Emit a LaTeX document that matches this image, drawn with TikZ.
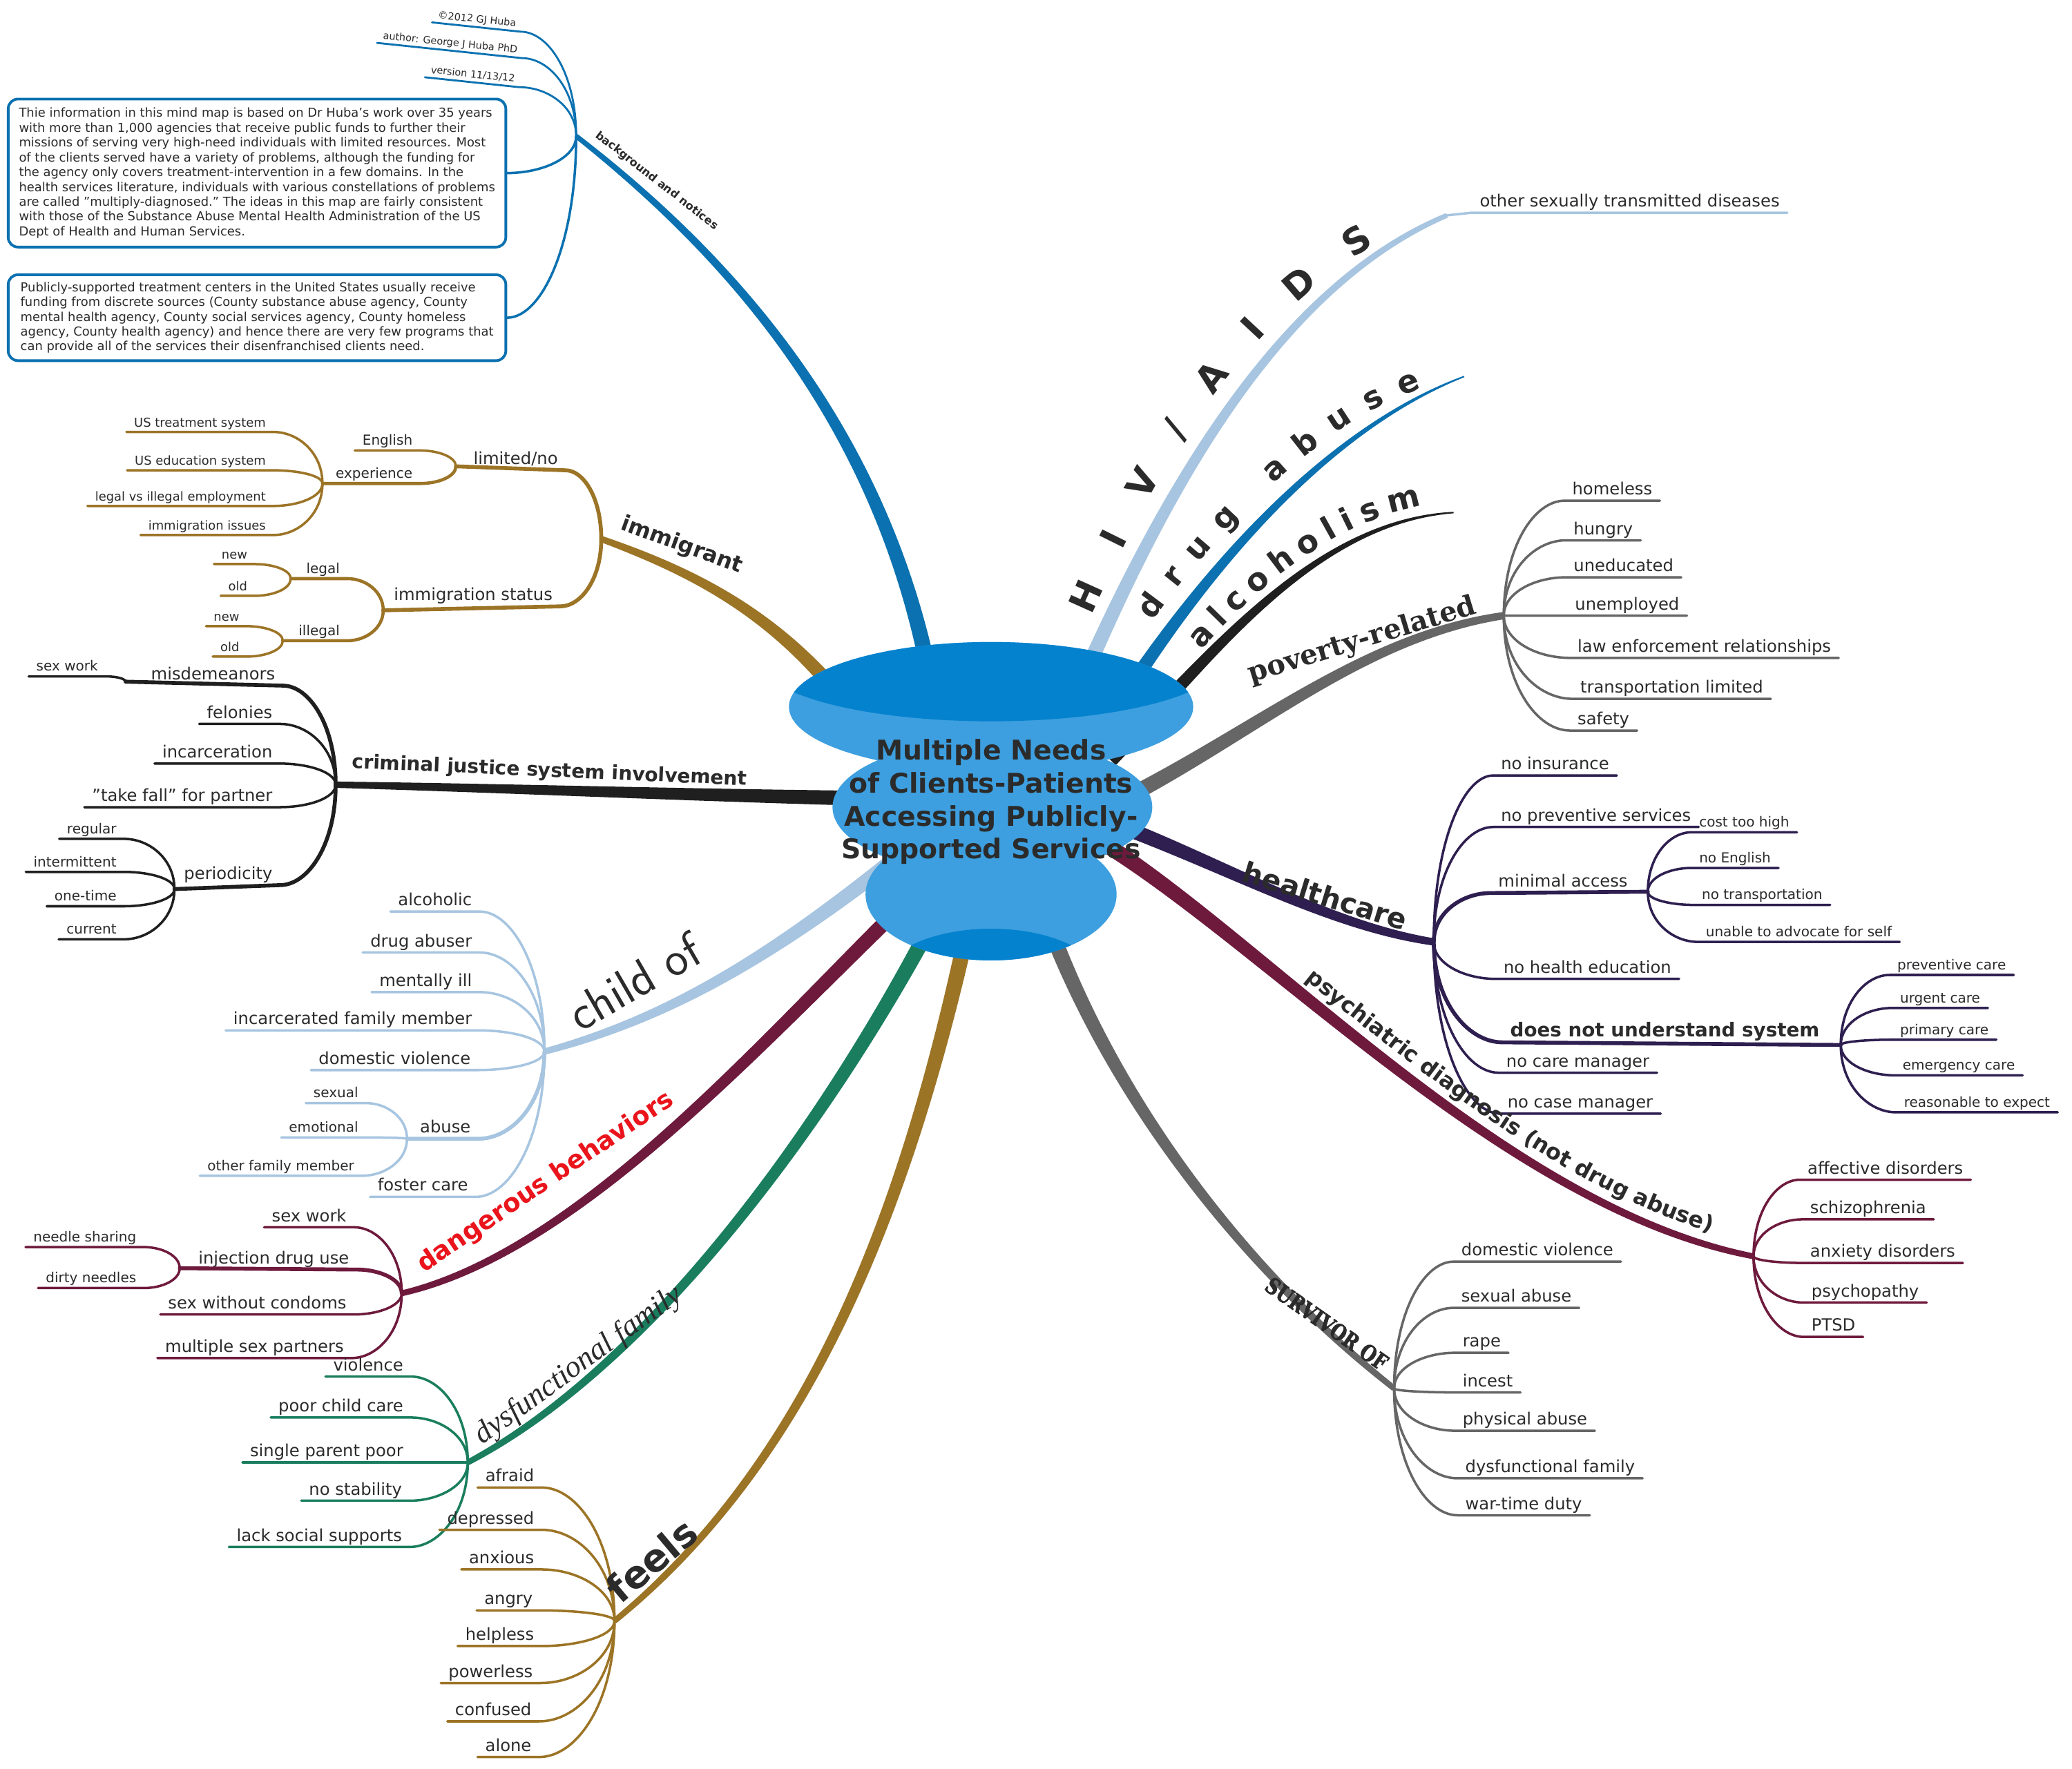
\documentclass[tikz,border=0pt]{standalone}
\usepackage{fontspec}
\setmainfont{DejaVu Sans}
\newfontfamily\slabfont{DejaVu Serif}
\newfontfamily\stencilfont[FakeStretch=0.8, FakeBold=2]{DejaVu Serif}
\newfontfamily\romfont{Liberation Serif}
\usetikzlibrary{calc, decorations.text}

\definecolor{ink}{HTML}{2B2B2B}
\definecolor{navy}{HTML}{0B71B0}
\definecolor{sky}{HTML}{A7C5E0}
\definecolor{ochre}{HTML}{9C7426}
\definecolor{coal}{HTML}{1F1F1F}
\definecolor{wine}{HTML}{6E1A3D}
\definecolor{pine}{HTML}{1A7E5E}
\definecolor{slate}{HTML}{666666}
\definecolor{plum}{HTML}{2E1F50}
\definecolor{alarm}{HTML}{EA141C}
\definecolor{hubdark}{HTML}{0582CE}
\definecolor{hublight}{HTML}{3D9FDF}

% tapered main branch: colour, root, control, control, tip, half width at tip
\newcommand\limb[6]{%
  \pgfmathsetlengthmacro\lwa{3.3pt}%
  \pgfmathsetlengthmacro\lwd{#6}%
  \pgfmathsetlengthmacro\lwb{(2*\lwa+\lwd)/3}%
  \pgfmathsetlengthmacro\lwc{(\lwa+2*\lwd)/3}%
  \fill[#1] ($#2!\lwa!90:#3$) .. controls ($#3!\lwb!-90:#2$) and ($#4!\lwc!90:#5$) .. ($#5!\lwd!-90:#4$)
    -- ($#5!\lwd!90:#4$) .. controls ($#4!\lwc!-90:#5$) and ($#3!\lwb!90:#2$) .. ($#2!\lwa!-90:#3$) -- cycle;}

\begin{document}
\begin{tikzpicture}[x=0.019133cm, y=-0.019133cm,
  leaf/.style={font=\fontsize{6.9}{8}\selectfont, text=ink, inner xsep=3pt, inner ysep=0.8pt, text depth=1.4pt},
  leafsm/.style={leaf, font=\fontsize{5.7}{7}\selectfont, text depth=1.2pt},
  leafxs/.style={leaf, font=\fontsize{5.1}{6}\selectfont, text depth=1.1pt},
  leaftiny/.style={leaf, font=\fontsize{4.1}{5}\selectfont, text depth=0.9pt, inner xsep=2pt},
  twig/.style={line width=1pt, line cap=round},
  stem/.style={line width=1.6pt, line cap=round},
  fan/.style={to path={.. controls ($(\tikztostart)!0.6!(\tikztostart|-\tikztotarget)$)
      and ($(\tikztotarget)!0.5!(\tikztostart|-\tikztotarget)$) .. (\tikztotarget)}},
  note/.style={draw=navy, line width=1.1pt, rounded corners=4pt, fill=white, text=ink,
      font=\fontsize{5.1}{6.1}\selectfont, align=left, inner xsep=3pt, inner ysep=3pt,
      minimum width=205pt},
  mainlbl/.style={text=ink, inner sep=0pt},
  spread/.style={decorate, decoration={text along path, text align=fit to path,
      text={|\fontsize{#1}{16}\selectfont\bfseries\color{ink}|\lbltext}}},
]

% ---- canvas -------------------------------------------------------------
\fill[white] (0,0) rectangle (1568,1339);
\useasboundingbox (0,0) rectangle (1568,1339);

% ---- junctions at the branch tips ---------------------------------------
\coordinate (bg) at (436,103);
\coordinate (im) at (455,408);
\coordinate (cr) at (254,594);
\coordinate (ch) at (412,796);
\coordinate (dg) at (304,979);
\coordinate (df) at (354,1107);
\coordinate (fe) at (465,1227);
\coordinate (sv) at (1055,1051);
\coordinate (ps) at (1327,951);
\coordinate (hc) at (1085,713);
\coordinate (pv) at (1138,466);
\coordinate (alc) at (1100,388);
\coordinate (drg) at (1108,285);
\coordinate (hiv) at (1095,163);

% ---- main branches --------------------------------------------------------
\limb{navy}{(705,520)}{(670,330)}{(560,200)}{(bg)}{1pt}
\limb{ochre}{(660,560)}{(600,470)}{(530,435)}{(im)}{1.3pt}
\limb{coal}{(700,605)}{(550,603)}{(400,597)}{(cr)}{1.3pt}
\limb{sky}{(690,640)}{(590,720)}{(510,770)}{(ch)}{1.3pt}
\limb{wine}{(720,650)}{(600,760)}{(450,945)}{(dg)}{1.2pt}
\limb{pine}{(720,670)}{(640,830)}{(500,1030)}{(df)}{1.2pt}
\limb{ochre}{(735,690)}{(690,900)}{(620,1100)}{(fe)}{1.2pt}
\limb{slate}{(790,690)}{(840,830)}{(940,960)}{(sv)}{1.2pt}
\limb{wine}{(830,635)}{(960,715)}{(1140,915)}{(ps)}{1.2pt}
\limb{plum}{(820,615)}{(920,650)}{(1000,700)}{(hc)}{1.5pt}
\limb{slate}{(840,610)}{(950,555)}{(1030,482)}{(pv)}{1.5pt}
\limb{coal}{(840,575)}{(910,505)}{(990,395)}{(alc)}{0.3pt}
\limb{navy}{(830,560)}{(890,460)}{(990,330)}{(drg)}{0.3pt}
\limb{sky}{(800,560)}{(870,390)}{(960,220)}{(hiv)}{1pt}

% ---- background and notices ----------------------------------------------
\foreach \t/\x/\y [count=\i] in {{©2012 GJ Huba}/394/24, {author: George J Huba PhD}/395/44,
    {version 11/13/12}/393/66}{
  \node[leaftiny, anchor=south east, rotate=-6] (bg\i) at (\x,\y) {\t};
  \draw[twig, navy, line width=0.8pt] (bg) to[fan] (bg\i.south east) -- (bg\i.south west);
}
\node[note, minimum height=61pt] (box1) at (194.5,131) {Thie information in this mind map is based on Dr Huba\symbol{39}s work over 35 years\\
with more than 1,000 agencies that receive public funds to further their\\
missions of serving very high-need individuals with limited resources. Most\\
of the clients served have a variety of problems, although the funding for\\
the agency only covers treatment-intervention in a few domains. In the\\
health services literature, individuals with various constellations of problems\\
are called \symbol{34}multiply-diagnosed.\symbol{34} The ideas in this map are fairly consistent\\
with those of the Substance Abuse Mental Health Administration of the US\\
Dept of Health and Human Services.};
\node[note, minimum height=35.4pt] (box2) at (194.5,240.5) {Publicly-supported treatment centers in the United States usually receive\\
funding from discrete sources (County substance abuse agency, County\\
mental health agency, County social services agency, County homeless\\
agency, County health agency) and hence there are very few programs that\\
can provide all of the services their disenfranchised clients need.};
\draw[twig, navy] (bg) to[fan] (box1.east);
\draw[twig, navy] (bg) to[fan] (box2.east);

% ---- immigrant --------------------------------------------------------------
\node[leaf, anchor=south east] (lim) at (428,356) {limited/no};
\coordinate (limj) at (345,353);
\draw[stem, ochre] (im) to[fan] (lim.south east) -- (limj);
\node[leafsm, anchor=south east] (eng) at (318,341) {English};
\draw[twig, ochre] (limj) to[fan] (eng.south east) -- (eng.south west);
\node[leafsm, anchor=south east] (exp) at (318,366) {experience};
\coordinate (expj) at (244,366);
\draw[stem, ochre, line width=1.3pt] (limj) to[fan] (exp.south east) -- (expj);
\foreach \t/\x/\y [count=\i] in {{US treatment system}/207/327, {US education system}/207/356,
    {legal vs illegal employment}/207/383, {immigration issues}/207/405}{
  \node[leafxs, anchor=south east] (exp\i) at (\x,\y) {\t};
  \draw[twig, ochre] (expj) to[fan] (exp\i.south east) -- (exp\i.south west);
}
\node[leaf, anchor=south east] (st) at (424,459) {immigration status};
\coordinate (stj) at (290,462);
\draw[stem, ochre] (im) to[fan] (st.south east) -- (stj);
\node[leafsm, anchor=south east] (leg) at (263,438) {legal};
\coordinate (legj) at (220,438);
\draw[stem, ochre, line width=1.3pt] (stj) to[fan] (leg.south east) -- (legj);
\node[leafsm, anchor=south east] (ill) at (263,485) {illegal};
\coordinate (illj) at (214,485);
\draw[stem, ochre, line width=1.3pt] (stj) to[fan] (ill.south east) -- (illj);
\foreach \t/\x/\y [count=\i] in {new/193/427, old/193/451}{
  \node[leafxs, anchor=south east] (leg\i) at (\x,\y) {\t};
  \draw[twig, ochre] (legj) to[fan] (leg\i.south east) -- (leg\i.south west);
}
\foreach \t/\x/\y [count=\i] in {new/187/474, old/187/497}{
  \node[leafxs, anchor=south east] (ill\i) at (\x,\y) {\t};
  \draw[twig, ochre] (illj) to[fan] (ill\i.south east) -- (ill\i.south west);
}

% ---- criminal justice ------------------------------------------------------
\foreach \t/\x/\y [count=\i] in {felonies/212/548, incarceration/212/578,
    {\symbol{34}take fall\symbol{34} for partner}/212/611}{
  \node[leaf, anchor=south east] (cr\i) at (\x,\y) {\t};
  \draw[twig, coal] (cr) to[fan] (cr\i.south east) -- (cr\i.south west);
}
\node[leaf, anchor=south east] (mis) at (214,519) {misdemeanors};
\coordinate (misj) at (95,516);
\draw[stem, coal] (cr) to[fan] (mis.south east) -- (misj);
\node[leafsm, anchor=south east] (sw) at (80,512) {sex work};
\draw[twig, coal] (misj) to[fan] (sw.south east) -- (sw.south west);
\node[leaf, anchor=south east] (per) at (212,670) {periodicity};
\coordinate (perj) at (132,673);
\draw[stem, coal] (cr) to[fan] (per.south east) -- (perj);
\foreach \t/\x/\y [count=\i] in {regular/94/635, intermittent/94/660, one-time/94/686, current/94/711}{
  \node[leafsm, anchor=south east] (per\i) at (\x,\y) {\t};
  \draw[twig, coal] (perj) to[fan] (per\i.south east) -- (per\i.south west);
}

% ---- child of ---------------------------------------------------------------
\foreach \t/\x/\y [count=\i] in {alcoholic/363/690, {drug abuser}/363/721, {mentally ill}/363/751,
    {incarcerated family member}/363/780, {domestic violence}/362/810, {foster care}/360/906}{
  \node[leaf, anchor=south east] (ch\i) at (\x,\y) {\t};
  \draw[twig, sky] (ch) to[fan] (ch\i.south east) -- (ch\i.south west);
}
\node[leaf, anchor=south east] (ab) at (362,862) {abuse};
\coordinate (abj) at (308,862);
\draw[stem, sky] (ch) to[fan] (ab.south east) -- (abj);
\foreach \t/\x/\y [count=\i] in {sexual/277/835, emotional/277/861, {other family member}/274/890}{
  \node[leafsm, anchor=south east] (ab\i) at (\x,\y) {\t};
  \draw[twig, sky] (abj) to[fan] (ab\i.south east) -- (ab\i.south west);
}

% ---- dangerous behaviors ------------------------------------------------
\foreach \t/\x/\y [count=\i] in {{sex work}/268/929, {sex without condoms}/268/995,
    {multiple sex partners}/266/1028}{
  \node[leaf, anchor=south east] (dg\i) at (\x,\y) {\t};
  \draw[twig, wine] (dg) to[fan] (dg\i.south east) -- (dg\i.south west);
}
\node[leaf, anchor=south east] (inj) at (270,961) {injection drug use};
\coordinate (injj) at (136,960);
\draw[stem, wine] (dg) to[fan] (inj.south east) -- (injj);
\foreach \t/\x/\y [count=\i] in {{needle sharing}/109/944, {dirty needles}/109/975}{
  \node[leafsm, anchor=south east] (inj\i) at (\x,\y) {\t};
  \draw[twig, wine] (injj) to[fan] (inj\i.south east) -- (inj\i.south west);
}

% ---- dysfunctional family ----------------------------------------------
\foreach \t/\x/\y [count=\i] in {violence/311/1042, {poor child care}/311/1073,
    {single parent poor}/311/1107, {no stability}/310/1136, {lack social supports}/310/1171}{
  \node[leaf, anchor=south east] (df\i) at (\x,\y) {\t};
  \draw[twig, pine] (df) to[fan] (df\i.south east) -- (df\i.south west);
}

% ---- feels ------------------------------------------------------------------
\foreach \t/\x/\y [count=\i] in {afraid/410/1126, depressed/410/1158, anxious/410/1188,
    angry/409/1219, helpless/410/1246, powerless/409/1274, confused/408/1303, alone/408/1330}{
  \node[leaf, anchor=south east] (fe\i) at (\x,\y) {\t};
  \draw[twig, ochre] (fe) to[fan] (fe\i.south east) -- (fe\i.south west);
}

% ---- survivor of ----------------------------------------------------------
\foreach \t/\x/\y [count=\i] in {{domestic violence}/1100/955, {sexual abuse}/1100/990,
    rape/1101/1024, incest/1101/1054, {physical abuse}/1101/1083,
    {dysfunctional family}/1103/1119, {war-time duty}/1103/1147}{
  \node[leaf, anchor=south west] (sv\i) at (\x,\y) {\t};
  \draw[twig, slate] (sv) to[fan] (sv\i.south west) -- (sv\i.south east);
}

% ---- psychiatric diagnosis ---------------------------------------------
\foreach \t/\x/\y [count=\i] in {{affective disorders}/1362/893, schizophrenia/1364/923,
    {anxiety disorders}/1364/956, psychopathy/1365/986, PTSD/1365/1012}{
  \node[leaf, anchor=south west] (ps\i) at (\x,\y) {\t};
  \draw[twig, wine] (ps) to[fan] (ps\i.south west) -- (ps\i.south east);
}

% ---- healthcare -------------------------------------------------------------
\foreach \t/\x/\y [count=\i] in {{no insurance}/1130/587, {no preventive services}/1130/626,
    {no health education}/1132/741, {no care manager}/1134/812, {no case manager}/1135/843}{
  \node[leaf, anchor=south west] (hc\i) at (\x,\y) {\t};
  \draw[twig, plum] (hc) to[fan] (hc\i.south west) -- (hc\i.south east);
}
\node[leaf, anchor=south west] (ma) at (1128,676) {minimal access};
\coordinate (maj) at (1247,675);
\draw[stem, plum] (hc) to[fan] (ma.south west) -- (maj);
\foreach \t/\x/\y [count=\i] in {{cost too high}/1280/630, {no English}/1280/657,
    {no transportation}/1282/685, {unable to advocate for self}/1285/713}{
  \node[leafsm, anchor=south west] (ma\i) at (\x,\y) {\t};
  \draw[twig, plum] (maj) to[fan] (ma\i.south west) -- (ma\i.south east);
}
\node[leaf, font=\fontsize{7.9}{9}\selectfont\bfseries, anchor=south west] (dn) at (1137,789) {does not understand system};
\coordinate (dnj) at (1393,791);
\draw[stem, plum] (hc) to[fan] (dn.south west) -- (dnj);
\foreach \t/\x/\y [count=\i] in {{preventive care}/1430/738, {urgent care}/1432/763,
    {primary care}/1432/787, {emergency care}/1434/814, {reasonable to expect}/1435/842}{
  \node[leafsm, anchor=south west] (dn\i) at (\x,\y) {\t};
  \draw[twig, plum] (dnj) to[fan] (dn\i.south west) -- (dn\i.south east);
}

% ---- poverty-related --------------------------------------------------------
\foreach \t/\x/\y [count=\i] in {homeless/1184/379, hungry/1185/409, uneducated/1185/437,
    unemployed/1186/466, {law enforcement relationships}/1188/498,
    {transportation limited}/1190/529, safety/1188/553}{
  \node[leaf, anchor=south west] (pv\i) at (\x,\y) {\t};
  \draw[twig, slate] (pv) to[fan] (pv\i.south west) -- (pv\i.south east);
}

% ---- HIV / AIDS -------------------------------------------------------------
\node[leaf, anchor=south west] (std) at (1114,161) {other sexually transmitted diseases};
\draw[twig, sky] (hiv) -- (std.south west) -- (std.south east);

% ---- central topic ----------------------------------------------------------
\fill[hublight] (750,535) ellipse [x radius=153, y radius=49];
\begin{scope}
  \clip (750,535) ellipse [x radius=153, y radius=49];
  \fill[hubdark] (750,500) ellipse [x radius=175, y radius=46];
\end{scope}
\fill[hublight] (751,611) ellipse [x radius=121, y radius=51];
\fill[hublight] (750,677) ellipse [x radius=95, y radius=50];
\begin{scope}
  \clip (750,677) ellipse [x radius=95, y radius=50];
  \fill[hubdark] (750,745) ellipse [x radius=85, y radius=42];
\end{scope}
\node[font=\fontsize{11.2}{13.6}\selectfont\bfseries, text=ink, align=center] (title) at (750,607)
  {Multiple Needs\\of Clients-Patients\\Accessing Publicly-\\Supported Services};

% ---- branch labels ------------------------------------------------------------
\node[mainlbl, font=\fontsize{4.6}{5}\selectfont\bfseries, rotate=-38] (lbl-bg) at (497,137) {background and notices};
\node[mainlbl, font=\fontsize{9}{10}\selectfont\bfseries, rotate=-20] (lbl-im) at (516,413) {immigrant};
\node[mainlbl, font=\fontsize{8}{9}\selectfont\bfseries, rotate=-2.5] (lbl-cr) at (416,584) {criminal justice system involvement};
\node[mainlbl, font=\sffamily\fontsize{20.4}{22}\selectfont, rotate=30] (lbl-ch) at (480,743) {child of};
\node[mainlbl, text=alarm, font=\fontsize{10.5}{11}\selectfont\bfseries, rotate=34] (lbl-dg) at (413,895) {dangerous behaviors};
\node[mainlbl, font=\romfont\itshape\fontsize{12.6}{13}\selectfont, rotate=36] (lbl-df) at (438,1034) {dysfunctional family};
\node[mainlbl, font=\fontsize{15.8}{17}\selectfont\bfseries, rotate=40] (lbl-fe) at (493,1181) {feels};
\node[mainlbl, font=\stencilfont\bfseries\fontsize{9.2}{10}\selectfont, rotate=-35] (lbl-sv) at (1004,1002) {SURVIVOR OF};
\path[decorate, decoration={text along path, text align=center,
    text={|\fontsize{9.1}{10}\selectfont\bfseries\color{ink}|psychiatric diagnosis (not drug abuse)}}]
  (965,724) .. controls (1050,790) and (1185,910) .. (1322,940);
\node[mainlbl, font=\fontsize{11.6}{12}\selectfont\bfseries, rotate=-17] (lbl-hc) at (1003,678) {healthcare};
\node[mainlbl, font=\slabfont\bfseries\fontsize{11.4}{12}\selectfont, rotate=17] (lbl-pv) at (1031,485) {poverty-related};
\def\lbltext{alcoholism}
\path[spread=13] (909,492) .. controls (950,445) and (1010,395) .. (1076,383);
\def\lbltext{drug abuse}
\path[spread=13] (872,470) .. controls (922,402) and (995,322) .. (1076,294);
\def\lbltext{HIV/AIDS}
\path[spread=15] (826,466) .. controls (872,362) and (932,252) .. (1040,185);

\end{tikzpicture}
\end{document}
